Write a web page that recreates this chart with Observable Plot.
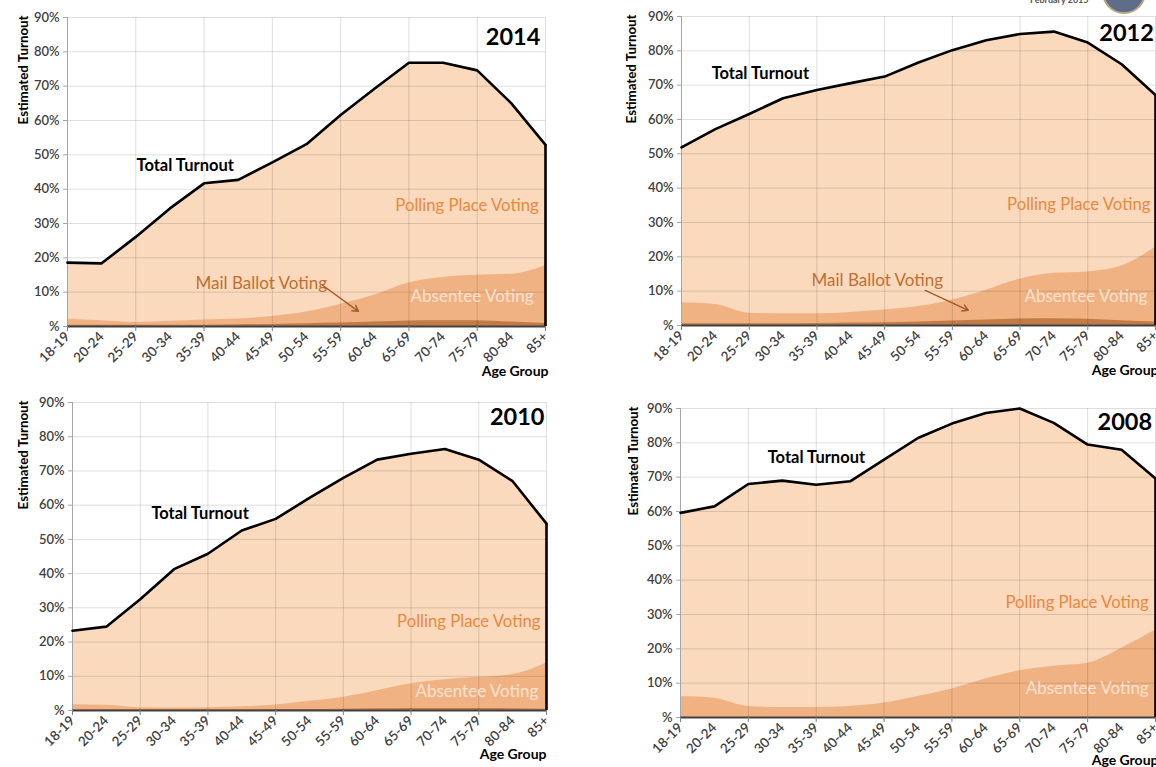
<!DOCTYPE html>
<html>
<head>
<meta charset="utf-8">
<script src="https://cdn.jsdelivr.net/npm/d3@7"></script>
<script src="https://cdn.jsdelivr.net/npm/@observablehq/plot@0.6"></script>
<style>
  html, body { margin: 0; padding: 0; background: #fff; }
  body { width: 1156px; height: 767px; position: relative; overflow: hidden; font-family: Lato, "Open Sans", sans-serif; }
  .panel { position: absolute; }
  .panel svg { overflow: visible; }
  #header { position: absolute; left: 1030px; top: -6px; font-size: 9px; font-weight: bold; color: #555; }
  #seal { position: absolute; left: 1102px; top: -30px; width: 44px; height: 44px; border-radius: 50%; background: #5d6d8a; border: 2px solid #b9a57a; box-sizing: border-box; }
</style>
</head>
<body>
<div id="header">February 2015</div>
<div id="seal"></div>
<div id="p2014" class="panel" style="left:0px; top:0px;"></div>
<div id="p2012" class="panel" style="left:600px; top:0px;"></div>
<div id="p2010" class="panel" style="left:0px; top:390px;"></div>
<div id="p2008" class="panel" style="left:600px; top:390px;"></div>
<script>
// ---------- data ----------
const categories = ["18-19","20-24","25-29","30-34","35-39","40-44","45-49","50-54","55-59","60-64","65-69","70-74","75-79","80-84","85+"];
const yTicks = [0,10,20,30,40,50,60,70,80,90];

// Total turnout (%)
const total2014 = [18.6,18.4,26.1,34.4,41.7,42.7,47.8,53.1,61.6,69.3,76.8,76.8,74.6,65.0,52.9];
const total2012 = [51.9,57.2,61.6,66.2,68.6,70.6,72.5,76.6,80.2,83.1,84.9,85.6,82.4,76.1,67.1];
const total2010 = [23.3,24.5,32.5,41.3,45.8,52.6,56.0,62.1,68.0,73.3,75.0,76.4,73.3,67.0,54.6];
const total2008 = [59.6,61.5,68.0,69.0,67.8,68.8,75.1,81.4,85.6,88.7,90.0,85.8,79.5,78.0,69.6];

// Absentee + mail ballot voting, cumulative top (%)
const absentee2014 = [2.1,1.7,1.2,1.5,1.9,2.2,2.9,4.2,6.5,9.2,12.7,14.3,14.9,15.2,17.7];
const absentee2012 = [6.6,6.1,3.6,3.4,3.4,3.8,4.5,5.5,7.4,10.3,13.5,15.2,15.6,17.3,22.8];
const absentee2010 = [1.7,1.5,0.8,0.7,0.8,1.1,1.6,2.7,3.9,5.8,7.8,9.0,9.7,10.5,13.9];
const absentee2008 = [6.1,5.6,3.2,2.9,2.9,3.2,4.2,6.1,8.3,11.2,13.6,14.9,15.8,20.2,25.4];

// Mail ballot voting (%)
const mail2014 = [0.4,0.4,0.4,0.4,0.4,0.5,0.6,0.8,1.0,1.3,1.6,1.7,1.7,1.3,0.9];
const mail2012 = [0.5,0.5,0.5,0.5,0.6,0.7,0.8,1.0,1.3,1.6,1.9,2.0,1.8,1.4,1.0];
const mail2010 = [0.2,0.2,0.2,0.2,0.2,0.2,0.3,0.3,0.4,0.5,0.6,0.6,0.6,0.5,0.4];
const mail2008 = [0,0,0,0,0,0,0,0,0,0,0,0,0,0,0];

// ---------- styling ----------
const COL_POLL = "#fad9bd";
const COL_ABS = "#f0b283";
const COL_MAIL = "#c27b47";
const FONT = "Lato, 'Open Sans', sans-serif";

function panel(cfg) {
  const rows = categories.map((c, i) => ({i, cat: c, total: cfg.total[i], absentee: cfg.absentee[i], mail: cfg.mail[i]}));
  const last = rows[rows.length - 1];
  const evens = d3.range(0, categories.length, 2);
  const L = cfg.labels;
  const marks = [
    Plot.areaY(rows, {x: "i", y: "total", fill: COL_POLL}),
    Plot.areaY(rows, {x: "i", y: "absentee", fill: COL_ABS, curve: "monotone-x"}),
    Plot.areaY(rows, {x: "i", y: "mail", fill: COL_MAIL, curve: "monotone-x"}),
    Plot.gridY(yTicks.filter(d => d > 0), {stroke: "#000", strokeOpacity: 0.13, strokeWidth: 1}),
    Plot.gridX(evens, {stroke: "#000", strokeOpacity: 0.13, strokeWidth: 1}),
    Plot.ruleX([0], {stroke: "#a6a6a6", strokeWidth: 1}),
    Plot.lineY(rows, {x: "i", y: "total", stroke: "#000", strokeWidth: 2.6, strokeLinejoin: "round"}),
    Plot.ruleX([last], {x: "i", y1: 0, y2: "total", stroke: "#000", strokeWidth: 2.6}),
    Plot.ruleY([0], {stroke: "#404040", strokeWidth: 1.8}),
    Plot.axisX(d3.range(categories.length), {tickFormat: i => categories[i], tickRotate: -45, tickSize: 0, tickPadding: 8, fontSize: 13.5, fontWeight: "600", fill: "#404040", label: null}),
    Plot.axisX(evens, {tickSize: 5, tickFormat: () => "", stroke: "#808080", label: null}),
    Plot.axisY(yTicks, {tickSize: 4, tickPadding: 4, stroke: "#a6a6a6", tickFormat: d => d === 0 ? "%" : d + "%", fontSize: 13, fontWeight: "600", fill: "#404040", label: null}),
    Plot.text(["Estimated Turnout"], {frameAnchor: "top-left", dx: cfg.ylabelDx, dy: -2, rotate: -90, textAnchor: "end", fontSize: 13.3, fontWeight: "bold", fill: "#000"}),
    Plot.text(["Age Group"], {frameAnchor: "bottom-right", dx: cfg.agDx, dy: cfg.agDy, textAnchor: "end", fontSize: 14, fontWeight: "bold", fill: "#000"}),
    Plot.text([cfg.year], {x: L.year[0], y: L.year[1], textAnchor: "end", fontSize: 23.5, fontWeight: "bold", fill: "#000"}),
    Plot.text(["Total Turnout"], {x: L.total[0], y: L.total[1], textAnchor: "start", fontSize: 16.5, fontWeight: "bold", fill: "#000"}),
    Plot.text(["Polling Place Voting"], {x: L.poll[0], y: L.poll[1], textAnchor: "end", fontSize: 16.7, fill: "#e8893f"}),
    Plot.text(["Absentee Voting"], {x: L.abs[0], y: L.abs[1], textAnchor: "end", fontSize: 17, fill: "#fde3cf"})
  ];
  if (L.mailText) {
    marks.push(Plot.text(["Mail Ballot Voting"], {x: L.mailText[0], y: L.mailText[1], textAnchor: "start", fontSize: 17, fill: "#c06f33"}));
    marks.push(Plot.arrow([L.arrow], {x1: d => d[0], y1: d => d[1], x2: d => d[2], y2: d => d[3], stroke: "#a35a26", strokeWidth: 1.4, headLength: 7}));
  }
  const chart = Plot.plot({
    width: cfg.width, height: cfg.height,
    marginLeft: cfg.ml, marginRight: cfg.mr, marginTop: cfg.mt, marginBottom: cfg.mb,
    style: {fontFamily: FONT, background: "transparent", overflow: "visible"},
    x: {domain: [0, categories.length - 1]},
    y: {domain: [0, 90]},
    marks
  });
  document.getElementById(cfg.id).appendChild(chart);
}

panel({id: "p2014", year: "2014", total: total2014, absentee: absentee2014, mail: mail2014,
  width: 560, height: 380, ml: 67, mr: 15, mt: 17, mb: 54, ylabelDx: -49, agDx: 3, agDy: 49,
  labels: {year: [13.85, 84.2], total: [2.02, 46.9], poll: [13.8, 35.2], abs: [13.65, 8.7], mailText: [3.75, 12.5], arrow: [7.47, 12.0, 8.52, 4.4]}});

panel({id: "p2012", year: "2012", total: total2012, absentee: absentee2012, mail: mail2012,
  width: 556, height: 380, ml: 81, mr: 1, mt: 16, mb: 55, ylabelDx: -55, agDx: 3, agDy: 49,
  labels: {year: [13.95, 85], total: [0.89, 73.4], poll: [13.85, 35.2], abs: [13.76, 8.4], mailText: [3.84, 13.1], arrow: [7.2, 10.2, 8.47, 4.4]}});

panel({id: "p2010", year: "2010", total: total2010, absentee: absentee2010, mail: mail2010,
  width: 560, height: 377, ml: 72, mr: 14, mt: 12, mb: 57, ylabelDx: -54, agDx: 0, agDy: 48,
  labels: {year: [13.94, 85.6], total: [2.33, 57.6], poll: [13.82, 26.0], abs: [13.76, 5.6]}});

panel({id: "p2008", year: "2008", total: total2008, absentee: absentee2008, mail: mail2008,
  width: 556, height: 377, ml: 80, mr: 1, mt: 18, mb: 50, ylabelDx: -52, agDx: 3, agDy: 47,
  labels: {year: [13.9, 85.9], total: [2.57, 75.7], poll: [13.8, 33.5], abs: [13.8, 8.4]}});
</script>
</body>
</html>
